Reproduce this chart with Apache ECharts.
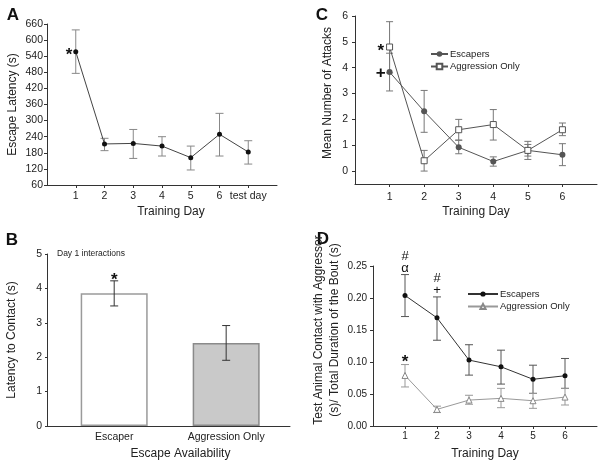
<!DOCTYPE html>
<html><head><meta charset="utf-8">
<script src="https://cdn.jsdelivr.net/npm/echarts@6/dist/echarts.min.js"></script>
<style>html,body{margin:0;padding:0;background:#fff}#c{width:604px;height:468px}</style>
</head><body><div id="c"></div>
<script>
// ---------- Panel A: escape latency ----------
const daysA = [1, 2, 3, 4, 5, 6, 7];
const dayLabelsA = ['1', '2', '3', '4', '5', '6', 'test day'];
const latencyMean = [557, 213, 215, 205, 162, 249, 183];
const latencyLow  = [476, 188, 159, 168, 116, 168, 138];
const latencyHigh = [638, 234, 267, 240, 205, 327, 225];
const notesA = ['*', '', '', '', '', '', ''];

// ---------- Panel B: latency to contact ----------
const groupsB = ['Escaper', 'Aggression Only'];
const contactMean = [3.86, 2.41];
const contactLow  = [3.49, 1.91];
const contactHigh = [4.22, 2.92];
const notesB = ['*', ''];

// ---------- Panel C: mean number of attacks ----------
const daysC = [1, 2, 3, 4, 5, 6];
const attackEsc     = [3.83, 2.31, 0.92, 0.37, 0.80, 0.63];
const attackEscLow  = [3.10, 1.50, 0.67, 0.19, 0.45, 0.21];
const attackEscHigh = [4.56, 3.12, 1.19, 0.55, 1.15, 1.06];
const attackAgg     = [4.80, 0.40, 1.60, 1.80, 0.80, 1.60];
const attackAggLow  = [3.80, 0.00, 1.20, 1.20, 0.58, 1.37];
const attackAggHigh = [5.78, 0.80, 2.00, 2.38, 1.03, 1.86];
const notesCEsc = ['+', '', '', '', '', ''];
const notesCAgg = ['*', '', '', '', '', ''];
const attackTicks = [0, 1, 2, 3, 4, 5, 6];

// ---------- Panel D: contact ratio ----------
const daysD = [1, 2, 3, 4, 5, 6];
const ratioEsc     = [0.204, 0.169, 0.103, 0.0925, 0.073, 0.0785];
const ratioEscLow  = [0.171, 0.134, 0.0795, 0.0655, 0.051, 0.0588];
const ratioEscHigh = [0.2366, 0.2017, 0.127, 0.1185, 0.095, 0.1055];
const ratioAgg     = [0.079, 0.026, 0.0405, 0.0432, 0.0395, 0.0452];
const ratioAggLow  = [0.061, 0.021, 0.034, 0.0286, 0.0276, 0.0328];
const ratioAggHigh = [0.096, 0.031, 0.048, 0.0588, 0.051, 0.0588];
const notesDEsc = ['#\nα', '#\n+', '', '', '', ''];
const notesDAgg = ['*', '', '', '', '', ''];

const FONT = 'Liberation Sans, Arial, Helvetica, sans-serif';

function axisBase(extra) {
  const base = {
    axisLine: { show: true, onZero: false, lineStyle: { color: '#333', width: 1 } },
    axisTick: { show: true, length: 3, lineStyle: { color: '#333', width: 1 } },
    axisLabel: { color: '#222', fontSize: 10.5, fontFamily: FONT },
    splitLine: { show: false },
    nameLocation: 'middle',
    nameTextStyle: { color: '#222', fontSize: 12, fontFamily: FONT }
  };
  return echarts.util.merge(base, extra, true);
}

function errSeries(xi, xs, lows, highs, cfg) {
  return {
    type: 'custom', xAxisIndex: xi, yAxisIndex: xi, z: cfg.z || 1, silent: true,
    data: xs.map((x, i) => [x, lows[i], highs[i]]),
    renderItem: function (params, api) {
      const x = api.value(0), lo = api.value(1), hi = api.value(2);
      const a = api.coord([x, lo]), b = api.coord([x, hi]);
      const st = { stroke: cfg.color, lineWidth: 1 };
      const h = cfg.cap;
      const ch = [
        { type: 'line', shape: { x1: a[0], y1: a[1], x2: b[0], y2: b[1] }, style: st },
        { type: 'line', shape: { x1: b[0] - h, y1: b[1], x2: b[0] + h, y2: b[1] }, style: st },
        { type: 'line', shape: { x1: a[0] - h, y1: a[1], x2: a[0] + h, y2: a[1] }, style: st }
      ];
      const note = cfg.notes && cfg.notes[params.dataIndex];
      if (note) {
        ch.push({ type: 'text', x: b[0], y: b[1] + cfg.noteDy,
          style: { text: note, align: 'center', verticalAlign: 'bottom',
            font: cfg.noteFont, fill: '#111', lineHeight: cfg.noteLH || 12 } });
      }
      return { type: 'group', children: ch };
    }
  };
}

function pts(xs, ys, notes) {
  return xs.map((x, i) => {
    const d = { value: [x, ys[i]] };
    if (notes && notes[i]) d.label = { show: true, formatter: notes[i] };
    return d;
  });
}

const chart = echarts.init(document.getElementById('c'), null, { renderer: 'canvas' });

const option = {
  animation: false,
  backgroundColor: '#fff',
  textStyle: { fontFamily: FONT },
  grid: [
    { left: 47, top: 24, width: 230, height: 161 },
    { left: 47, top: 254, width: 243, height: 172 },
    { left: 355, top: 16, width: 242, height: 168 },
    { left: 373, top: 266, width: 224, height: 160 }
  ],
  xAxis: [
    axisBase({ gridIndex: 0, type: 'value', min: 0, max: 8,
      axisTick: { customValues: daysA },
      axisLabel: { customValues: daysA, margin: 6, formatter: v => dayLabelsA[v - 1] },
      name: 'Training Day', nameGap: 21, nameTextStyle: { padding: [0, 0, 0, 18] } }),
    axisBase({ gridIndex: 1, type: 'value', min: -0.6, max: 1.57,
      axisTick: { show: false },
      axisLabel: { customValues: groupsB.map((g, i) => i), margin: 6, formatter: v => groupsB[v] },
      name: 'Escape Availability', nameGap: 22, nameTextStyle: { padding: [0, 0, 0, 24] } }),
    axisBase({ gridIndex: 2, type: 'value', min: 0, max: 7,
      axisTick: { customValues: daysC },
      axisLabel: { customValues: daysC, margin: 8 },
      name: 'Training Day', nameGap: 22 }),
    axisBase({ gridIndex: 3, type: 'value', min: 0, max: 7,
      axisTick: { customValues: daysD },
      axisLabel: { customValues: daysD, margin: 5, fontSize: 10 },
      name: 'Training Day', nameGap: 22 })
  ],
  yAxis: [
    axisBase({ gridIndex: 0, type: 'value', min: 60, max: 660, interval: 60,
      axisLabel: { margin: 4 },
      name: 'Escape Latency (s)', nameGap: 28 }),
    axisBase({ gridIndex: 1, type: 'value', min: 0, max: 5, interval: 1,
      axisTick: { length: 2 },
      axisLabel: { margin: 5 },
      name: 'Latency to Contact (s)', nameGap: 29 }),
    axisBase({ gridIndex: 2, type: 'value', min: -0.5, max: 6,
      axisTick: { customValues: attackTicks },
      axisLabel: { customValues: attackTicks, margin: 7 },
      name: 'Mean Number of Attacks', nameGap: 21, nameTextStyle: { padding: [0, 0, 0, 14] } }),
    axisBase({ gridIndex: 3, type: 'value', min: 0, max: 0.25, interval: 0.05,
      axisLabel: { margin: 6, fontSize: 10, formatter: v => v.toFixed(2) },
      name: 'Test Animal Contact with Aggressor\n(s)/ Total Duration of the Bout (s)',
      nameGap: 30, nameTextStyle: { lineHeight: 16, padding: [0, 0, 0, 32] } })
  ],
  legend: [
    { data: ['Escapers', 'Aggression Only'], orient: 'vertical', left: 430, top: 49,
      itemWidth: 17, itemHeight: 7, itemGap: 2.5, selectedMode: false, padding: 0,
      textStyle: { fontSize: 9.5, lineHeight: 8, color: '#222', fontFamily: FONT, padding: [0, 0, 0, -3] } },
    { data: ['D·Escapers', 'D·Aggression Only'], orient: 'vertical', left: 467, top: 289,
      itemWidth: 30, itemHeight: 6.5, itemGap: 2.5, selectedMode: false, padding: 0,
      formatter: n => n.split('·')[1],
      textStyle: { fontSize: 9.5, lineHeight: 9, color: '#222', fontFamily: FONT, padding: [0, 0, 0, -3] } }
  ],
  series: [
    // A
    errSeries(0, daysA, latencyLow, latencyHigh, { color: '#888', cap: 4 }),
    { type: 'line', name: 'Escape latency', xAxisIndex: 0, yAxisIndex: 0, z: 3,
      data: pts(daysA, latencyMean, notesA),
      symbol: 'circle', symbolSize: 5,
      itemStyle: { color: '#111' }, lineStyle: { color: '#444', width: 1 },
      label: { position: 'left', distance: 1, offset: [0, 4], fontSize: 17, fontWeight: 'bold', color: '#111' } },
    // B
    { type: 'bar', name: 'Latency to contact', xAxisIndex: 1, yAxisIndex: 1, z: 2, barWidth: 67,
      data: groupsB.map((g, i) => ({ value: [i, contactMean[i]],
        itemStyle: i === 0 ? { color: '#ffffff', borderColor: '#9a9a9a', borderWidth: 1.5 }
                           : { color: '#c9c9c9', borderColor: '#8a8a8a', borderWidth: 1.5 } })) },
    errSeries(1, groupsB.map((g, i) => i), contactLow, contactHigh,
      { color: '#333', cap: 4, z: 3, notes: notesB, noteDy: 5, noteFont: 'bold 17px ' + FONT }),
    // C
    errSeries(2, daysC, attackEscLow, attackEscHigh, { color: '#777', cap: 3.5 }),
    errSeries(2, daysC, attackAggLow, attackAggHigh, { color: '#777', cap: 3.5 }),
    { type: 'line', name: 'Escapers', xAxisIndex: 2, yAxisIndex: 2, z: 3,
      data: pts(daysC, attackEsc, notesCEsc),
      symbol: 'circle', symbolSize: 6,
      itemStyle: { color: '#555' }, lineStyle: { color: '#555', width: 1 },
      label: { position: 'left', distance: 1, offset: [0, 1], fontSize: 17, fontWeight: 'bold', color: '#111' } },
    { type: 'line', name: 'Aggression Only', xAxisIndex: 2, yAxisIndex: 2, z: 4,
      data: pts(daysC, attackAgg, notesCAgg),
      symbol: 'rect', symbolSize: 6,
      itemStyle: { color: '#fff', borderColor: '#555', borderWidth: 1 }, lineStyle: { color: '#555', width: 1 },
      label: { position: 'left', distance: 2, offset: [0, 4], fontSize: 17, fontWeight: 'bold', color: '#111' } },
    // D
    errSeries(3, daysD, ratioEscLow, ratioEscHigh,
      { color: '#555', cap: 4, notes: notesDEsc, noteDy: 0, noteLH: 12, noteFont: '13px ' + FONT }),
    errSeries(3, daysD, ratioAggLow, ratioAggHigh,
      { color: '#999', cap: 4, notes: notesDAgg, noteDy: 4, noteFont: 'bold 17px ' + FONT }),
    { type: 'line', name: 'D·Escapers', xAxisIndex: 3, yAxisIndex: 3, z: 3,
      data: pts(daysD, ratioEsc),
      symbol: 'circle', symbolSize: 5,
      itemStyle: { color: '#111' }, lineStyle: { color: '#333', width: 1 } },
    { type: 'line', name: 'D·Aggression Only', xAxisIndex: 3, yAxisIndex: 3, z: 3,
      data: pts(daysD, ratioAgg),
      symbol: 'triangle', symbolSize: 6,
      itemStyle: { color: '#fff', borderColor: '#888', borderWidth: 1 }, lineStyle: { color: '#999', width: 1 } }
  ],
  graphic: [
    { type: 'text', x: 13, y: 15, style: { text: 'A', align: 'center', verticalAlign: 'middle', font: 'bold 17px ' + FONT, fill: '#111' } },
    { type: 'text', x: 12, y: 240, style: { text: 'B', align: 'center', verticalAlign: 'middle', font: 'bold 17px ' + FONT, fill: '#111' } },
    { type: 'text', x: 322, y: 15, style: { text: 'C', align: 'center', verticalAlign: 'middle', font: 'bold 17px ' + FONT, fill: '#111' } },
    { type: 'text', x: 323, y: 239, style: { text: 'D', align: 'center', verticalAlign: 'middle', font: 'bold 17px ' + FONT, fill: '#111' } },
    { type: 'text', x: 57, y: 254, style: { text: 'Day 1 interactions', align: 'left', verticalAlign: 'middle', font: '8.5px ' + FONT, fill: '#222' } }
  ]
};
chart.setOption(option);
</script></body></html>
